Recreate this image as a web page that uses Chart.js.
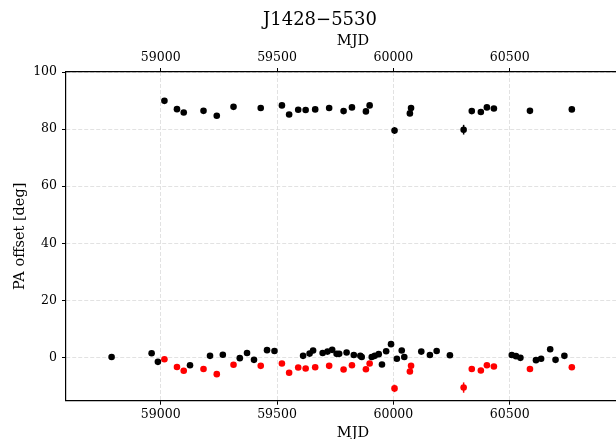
<!DOCTYPE html>
<html>
<head>
<meta charset="utf-8">
<script src="https://cdn.jsdelivr.net/npm/chart.js@4"></script>
<style>
  html, body { margin: 0; padding: 0; background: #fff; overflow: hidden; }
  #wrap { position: absolute; left: 0; top: 0; width: 640px; height: 452px; }
</style>
</head>
<body>
<div id="wrap"><canvas id="paChart" width="640" height="452"></canvas></div>
<script>
/* ======================
   DATA
====================== */

// epochs with both a black (upper) and red measurement
const epochs = [59016, 59070, 59099, 59184, 59241, 59313, 59430, 59521, 59552, 59591,
  59623, 59664, 59724, 59786, 59822, 59882, 59898, 60005, 60071, 60076,
  60302, 60337, 60376, 60402, 60432, 60587, 60767];
const paUpper = [89.9, 87.0, 85.8, 86.4, 84.7, 87.8, 87.4, 88.3, 85.1, 86.8,
  86.7, 86.9, 87.4, 86.3, 87.6, 86.2, 88.3, 79.5, 85.5, 87.4,
  79.8, 86.3, 86.0, 87.6, 87.2, 86.4, 86.9];
const errUpper = [0.5, 0.5, 0.5, 0.5, 0.5, 0.5, 0.5, 0.5, 0.5, 0.5,
  0.5, 0.5, 0.5, 0.5, 0.5, 0.5, 0.5, 1.2, 0.5, 0.5,
  1.7, 0.5, 0.5, 0.5, 0.5, 0.5, 0.5];
const paRed = [-0.6, -3.3, -4.6, -4.0, -5.8, -2.5, -2.9, -2.1, -5.3, -3.5,
  -3.8, -3.4, -2.9, -4.2, -2.7, -4.1, -2.1, -10.8, -4.9, -2.9,
  -10.5, -4.0, -4.5, -2.7, -3.1, -4.0, -3.4];
const errRed = [0.5, 0.5, 0.5, 0.5, 0.5, 0.5, 0.5, 0.5, 0.5, 0.5,
  0.5, 0.5, 0.5, 0.5, 0.5, 0.5, 0.5, 1.3, 0.5, 0.5,
  1.8, 0.5, 0.5, 0.5, 0.5, 0.5, 0.5];

// black points near zero
const epochsLow = [58789, 58961, 58988, 59126, 59212, 59267, 59340, 59371, 59401, 59457,
  59489, 59612, 59640, 59655, 59696, 59717, 59737, 59756, 59767, 59799,
  59830, 59858, 59864, 59907, 59920, 59937, 59951, 59969, 59990, 60015,
  60036, 60047, 60120, 60157, 60186, 60243, 60509, 60527, 60546, 60613,
  60635, 60674, 60697, 60735];
const paLow = [0.2, 1.5, -1.5, -2.7, 0.6, 1.0, -0.2, 1.6, -0.8, 2.6,
  2.3, 0.6, 1.4, 2.5, 1.6, 2.1, 2.7, 1.3, 1.3, 1.8,
  0.9, 0.6, 0.2, 0.2, 0.6, 1.2, -2.4, 2.2, 4.7, -0.4,
  2.5, 0.2, 2.1, 0.9, 2.3, 0.8, 0.9, 0.5, -0.1, -0.9,
  -0.4, 2.9, -0.8, 0.6];
const errLow = paLow.map(() => 0.5);

const mjdTicks = [59000, 59500, 60000, 60500];
const paTicks = [0, 20, 40, 60, 80, 100];

/* ======================
   HELPERS
====================== */

const FONT = "'DejaVu Serif', 'Liberation Serif', serif";
const pts = (xs, ys) => xs.map((x, i) => ({ x: x, y: ys[i] }));

// vertical error bars, drawn through the chart scales
const errorBars = {
  id: "errorBars",
  beforeDatasetsDraw(chart) {
    const { ctx, scales: { x, y } } = chart;
    chart.data.datasets.forEach(ds => {
      if (!ds.errors) return;
      ctx.save();
      ctx.strokeStyle = ds.borderColor;
      ctx.lineWidth = 1.5;
      ds.data.forEach((p, j) => {
        const e = ds.errors[j];
        const px = x.getPixelForValue(p.x);
        ctx.beginPath();
        ctx.moveTo(px, y.getPixelForValue(p.y - e));
        ctx.lineTo(px, y.getPixelForValue(p.y + e));
        ctx.stroke();
      });
      ctx.restore();
    });
  }
};

const xGrid = {
  color: "#dadada",
  lineWidth: 0.8,
  tickLength: 4,
  tickColor: "#000",
  tickWidth: 1
};
const xBorder = { color: "#000", width: 1.2, dash: [4, 2] };
const tickFont = { family: FONT, size: 12.5 };
const labelFont = { family: FONT, size: 14.5 };
const plain = v => String(v);

/* ======================
   CHART
====================== */

const ctx = document.getElementById("paChart").getContext("2d");

new Chart(ctx, {
  type: "scatter",
  data: {
    datasets: [
      {
        label: "PA",
        data: pts(epochs, paUpper),
        errors: errUpper,
        backgroundColor: "#000",
        borderColor: "#000",
        pointRadius: 3.3,
        pointBorderWidth: 0
      },
      {
        label: "PA low",
        data: pts(epochsLow, paLow),
        errors: errLow,
        backgroundColor: "#000",
        borderColor: "#000",
        pointRadius: 3.3,
        pointBorderWidth: 0
      },
      {
        label: "PA - 90",
        data: pts(epochs, paRed),
        errors: errRed,
        backgroundColor: "#ff0000",
        borderColor: "#ff0000",
        pointRadius: 3.3,
        pointBorderWidth: 0
      }
    ]
  },
  options: {
    responsive: false,
    animation: false,
    devicePixelRatio: 1,
    layout: { autoPadding: false, padding: 0 },
    plugins: {
      legend: { display: false },
      tooltip: { enabled: false },
      title: {
        display: true,
        text: "J1428\u22125530",
        color: "#000",
        font: { family: FONT, size: 18, weight: "normal" },
        padding: { top: 10, bottom: 0 }
      }
    },
    scales: {
      x: {
        type: "linear",
        position: "bottom",
        min: 58593,
        max: 61060,
        afterBuildTicks: s => { s.ticks = mjdTicks.map(v => ({ value: v })); },
        afterFit: s => { s.height = 51.3; },
        ticks: { color: "#000", font: tickFont, padding: 3, maxRotation: 0, callback: plain },
        grid: xGrid,
        border: xBorder,
        title: {
          display: true,
          text: "MJD",
          color: "#000",
          font: labelFont,
          padding: { top: 0, bottom: 10 }
        }
      },
      x2: {
        type: "linear",
        position: "top",
        min: 58593,
        max: 61060,
        afterBuildTicks: s => { s.ticks = mjdTicks.map(v => ({ value: v })); },
        afterFit: s => { s.height = 40.4; },
        ticks: { color: "#000", font: tickFont, padding: 3, maxRotation: 0, callback: plain },
        grid: Object.assign({}, xGrid, { drawOnChartArea: false }),
        border: xBorder,
        title: {
          display: true,
          text: "MJD",
          color: "#000",
          font: labelFont,
          padding: { top: 1, bottom: 0 }
        }
      },
      y: {
        type: "linear",
        position: "left",
        min: -15.1,
        max: 100,
        afterBuildTicks: s => { s.ticks = paTicks.map(v => ({ value: v })); },
        afterFit: s => { s.width = 66; },
        ticks: { color: "#000", font: tickFont, padding: 5, callback: plain },
        grid: xGrid,
        border: xBorder,
        title: {
          display: true,
          text: "PA offset [deg]",
          color: "#000",
          font: labelFont,
          padding: { top: 12, bottom: 0 }
        }
      }
    }
  },
  plugins: [errorBars]
});
</script>
</body>
</html>
